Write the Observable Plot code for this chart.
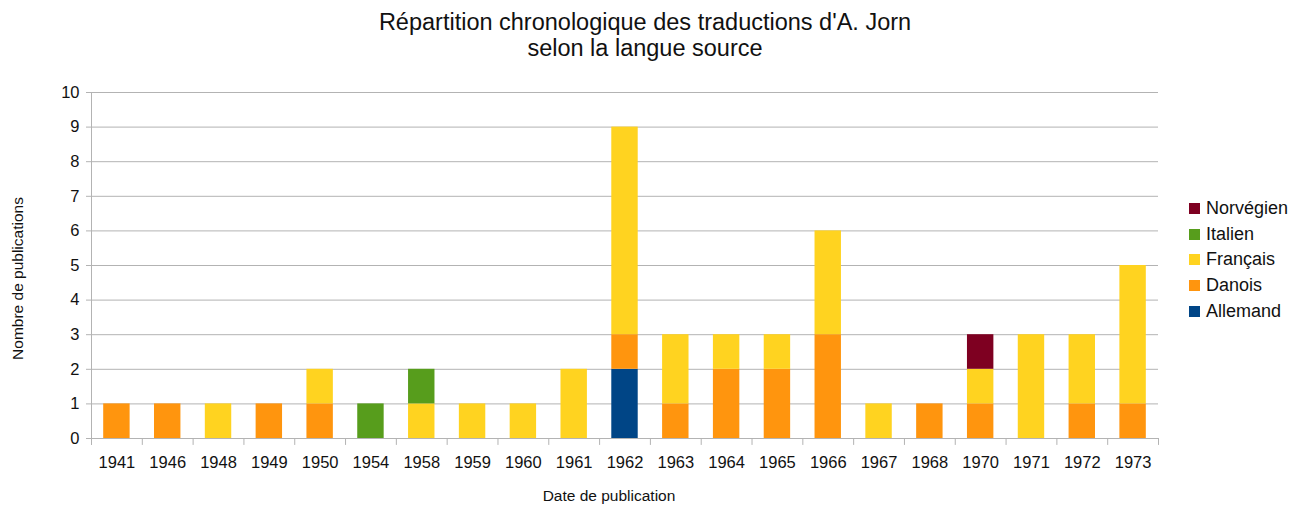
<!DOCTYPE html>
<html><head><meta charset="utf-8">
<script src="https://cdn.jsdelivr.net/npm/d3@7"></script>
<script src="https://cdn.jsdelivr.net/npm/@observablehq/plot@0.6"></script>
<style>
body{margin:0;background:#fff;font-family:"Liberation Sans",Arial,sans-serif;}
#wrap{position:relative;width:1290px;height:507px;overflow:hidden;}
#chart{position:absolute;left:0;top:0;}
#title{position:absolute;left:0;top:9px;width:1290px;text-align:center;font-size:23.5px;line-height:26px;color:#111;}
#legend{position:absolute;left:1189px;top:196px;font-size:18px;color:#111;}
.item{display:flex;align-items:center;height:25.6px;}
.sw{width:11px;height:11px;margin-right:6px;flex:none;}
</style></head><body>
<div id="wrap"><div id="chart"></div><div id="title">Répartition chronologique des traductions d'A. Jorn<br>selon la langue source</div><div id="legend"></div></div>
<script>
const years = [1941,1946,1948,1949,1950,1954,1958,1959,1960,1961,1962,1963,1964,1965,1966,1967,1968,1970,1971,1972,1973];
const languages = ["Allemand","Danois","Français","Italien","Norvégien"];
const colors = ["#004586","#ff950e","#ffd320","#579d1c","#7e0021"];
const allemand  = [0,0,0,0,0,0,0,0,0,0,2,0,0,0,0,0,0,0,0,0,0];
const danois    = [1,1,0,1,1,0,0,0,0,0,1,1,2,2,3,0,1,1,0,1,1];
const francais  = [0,0,1,0,1,0,1,1,1,2,6,2,1,1,3,1,0,1,3,2,4];
const italien   = [0,0,0,0,0,1,1,0,0,0,0,0,0,0,0,0,0,0,0,0,0];
const norvegien = [0,0,0,0,0,0,0,0,0,0,0,0,0,0,0,0,0,1,0,0,0];
const yTicks = [0,1,2,3,4,5,6,7,8,9,10];
const yLabel = "Nombre de publications";
const xLabel = "Date de publication";

const series = [allemand, danois, francais, italien, norvegien];
const rows = [];
years.forEach((yr, i) => {
  series.forEach((s, j) => { if (s[i] > 0) rows.push({year: yr, lang: languages[j], n: s[i]}); });
});

const W = 1290, H = 507, mL = 91, mR = 132, mT = 92, mB = 69;
const step = (W - mL - mR) / years.length;
const grid = "#b3b3b3";

const chart = Plot.plot({
  width: W, height: H,
  marginLeft: mL, marginRight: mR, marginTop: mT, marginBottom: mB,
  style: {fontFamily: '"Liberation Sans", Arial, sans-serif', fontSize: "16.5px", color: "#111", background: "transparent"},
  x: {type: "band", domain: years, paddingInner: 0.48, paddingOuter: 0.24, round: false, label: null},
  y: {domain: [0, 10], label: null},
  color: {domain: languages, range: colors},
  marks: [
    Plot.ruleY(yTicks, {stroke: grid}),
    Plot.axisY({ticks: yTicks, tickSize: 5, tickPadding: 7, stroke: grid, label: null}),
    Plot.ruleX([years[0]], {x: d => d, dx: -step / 2, y1: -0.2, y2: 10, stroke: grid}),
    Plot.ruleX(years, {x: d => d, dx: -step / 2, y1: 0, y2: -0.2, stroke: grid}),
    Plot.ruleX([years[years.length - 1]], {x: d => d, dx: step / 2, y1: 0, y2: -0.2, stroke: grid}),
    Plot.barY(rows, {x: "year", y: "n", fill: "lang"}),
    Plot.axisX({tickSize: 0, tickPadding: 18, tickFormat: d => String(d), label: null}),
    Plot.text([yLabel], {frameAnchor: "left", textAnchor: "middle", dx: -73, dy: 13, rotate: -90, fontSize: 15.5, fill: "#111"}),
    Plot.text([xLabel], {frameAnchor: "bottom", textAnchor: "middle", dx: -16, dy: 62, fontSize: 15.5, fill: "#111"})
  ]
});
document.getElementById("chart").appendChild(chart);

const legend = document.getElementById("legend");
[...languages].reverse().forEach(l => {
  const it = document.createElement("div");
  it.className = "item";
  const sw = document.createElement("div");
  sw.className = "sw";
  sw.style.background = colors[languages.indexOf(l)];
  const t = document.createElement("span");
  t.textContent = l;
  it.appendChild(sw); it.appendChild(t);
  legend.appendChild(it);
});
</script>
</body></html>
